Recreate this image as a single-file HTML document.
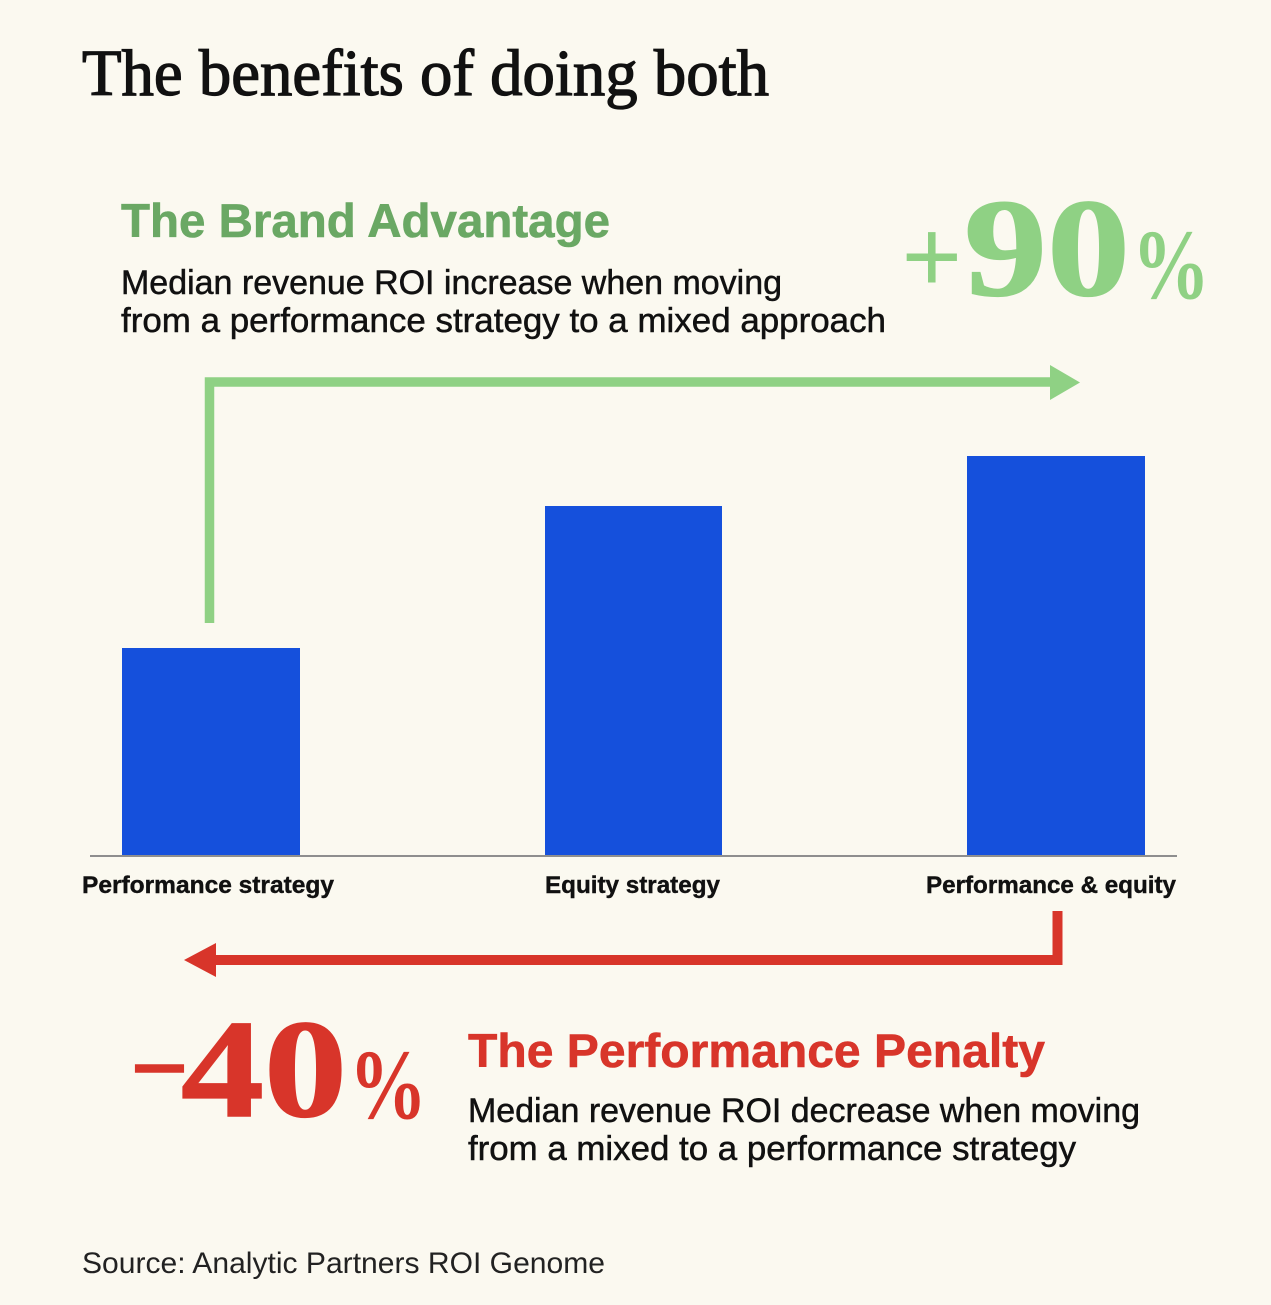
<!DOCTYPE html>
<html>
<head>
<meta charset="utf-8">
<style>
  html, body { margin: 0; padding: 0; background: #fbf9f0; }
  svg { display: block; }
</style>
</head>
<body>
<svg width="1271" height="1305" viewBox="0 0 1271 1305" xmlns="http://www.w3.org/2000/svg">
  <rect x="0" y="0" width="1271" height="1305" fill="#fbf9f0"/>

  <!-- Title -->
  <text x="82" y="95" font-family="'Liberation Serif', serif" font-size="66" fill="#111" stroke="#111" stroke-width="1.3" textLength="687" lengthAdjust="spacingAndGlyphs">The benefits of doing both</text>

  <!-- Brand advantage block -->
  <text x="121" y="237" font-family="'Liberation Sans', sans-serif" font-weight="bold" font-size="47" fill="#6aa864" stroke="#6aa864" stroke-width="0.6" textLength="489" lengthAdjust="spacingAndGlyphs">The Brand Advantage</text>
  <text x="121" y="294" font-family="'Liberation Sans', sans-serif" font-size="34" fill="#111" stroke="#111" stroke-width="0.5" textLength="661" lengthAdjust="spacingAndGlyphs">Median revenue ROI increase when moving</text>
  <text x="121" y="332" font-family="'Liberation Sans', sans-serif" font-size="34" fill="#111" stroke="#111" stroke-width="0.5" textLength="765" lengthAdjust="spacingAndGlyphs">from a performance strategy to a mixed approach</text>

  <!-- +90% -->
  <text x="901" y="293" font-family="'Liberation Serif', serif" font-weight="bold" font-size="108" fill="#8fd184">+</text>
  <text x="964" y="295" font-family="'Liberation Serif', serif" font-weight="bold" font-size="140" fill="#8fd184" stroke="#8fd184" stroke-width="1.5" textLength="166" lengthAdjust="spacingAndGlyphs">90</text>
  <text x="1132" y="298" font-family="'Liberation Serif', serif" font-weight="bold" font-size="100" fill="#8fd184" textLength="78" lengthAdjust="spacingAndGlyphs">%</text>

  <!-- Green arrow -->
  <polyline points="209.5,623 209.5,382 1052,382" fill="none" stroke="#8fd184" stroke-width="9.5" stroke-linejoin="miter"/>
  <polygon points="1050,365 1080,382.5 1050,400" fill="#8fd184"/>

  <!-- Bars -->
  <rect x="122" y="648" width="178" height="208" fill="#1550dc"/>
  <rect x="545" y="506" width="177" height="350" fill="#1550dc"/>
  <rect x="967" y="456" width="178" height="400" fill="#1550dc"/>

  <!-- Baseline -->
  <line x1="90" y1="856" x2="1177" y2="856" stroke="#8e8e8e" stroke-width="2"/>

  <!-- Category labels -->
  <text x="82" y="893" font-family="'Liberation Sans', sans-serif" font-weight="bold" font-size="24" fill="#111" stroke="#111" stroke-width="0.4" textLength="252" lengthAdjust="spacingAndGlyphs">Performance strategy</text>
  <text x="545" y="893" font-family="'Liberation Sans', sans-serif" font-weight="bold" font-size="24" fill="#111" stroke="#111" stroke-width="0.4" textLength="175" lengthAdjust="spacingAndGlyphs">Equity strategy</text>
  <text x="926" y="893" font-family="'Liberation Sans', sans-serif" font-weight="bold" font-size="24" fill="#111" stroke="#111" stroke-width="0.4" textLength="250" lengthAdjust="spacingAndGlyphs">Performance &amp; equity</text>

  <!-- Red arrow -->
  <polyline points="1057.5,911 1057.5,960 214,960" fill="none" stroke="#d8352a" stroke-width="10" stroke-linejoin="miter"/>
  <polygon points="216,943 184,960 216,977" fill="#d8352a"/>

  <!-- -40% -->
  <text x="128" y="1092" font-family="'Liberation Serif', serif" font-weight="bold" font-size="100" fill="#d8352a" textLength="63" lengthAdjust="spacingAndGlyphs">-</text>
  <text x="181" y="1116" font-family="'Liberation Serif', serif" font-weight="bold" font-size="140" fill="#d8352a" stroke="#d8352a" stroke-width="1.5" textLength="166" lengthAdjust="spacingAndGlyphs">40</text>
  <text x="349" y="1118" font-family="'Liberation Serif', serif" font-weight="bold" font-size="100" fill="#d8352a" textLength="78" lengthAdjust="spacingAndGlyphs">%</text>

  <!-- Performance penalty block -->
  <text x="468" y="1067" font-family="'Liberation Sans', sans-serif" font-weight="bold" font-size="47" fill="#d8352a" stroke="#d8352a" stroke-width="0.6" textLength="577" lengthAdjust="spacingAndGlyphs">The Performance Penalty</text>
  <text x="468" y="1122" font-family="'Liberation Sans', sans-serif" font-size="34" fill="#111" stroke="#111" stroke-width="0.5" textLength="672" lengthAdjust="spacingAndGlyphs">Median revenue ROI decrease when moving</text>
  <text x="468" y="1160" font-family="'Liberation Sans', sans-serif" font-size="34" fill="#111" stroke="#111" stroke-width="0.5" textLength="608" lengthAdjust="spacingAndGlyphs">from a mixed to a performance strategy</text>

  <!-- Source -->
  <text x="82" y="1273" font-family="'Liberation Sans', sans-serif" font-size="30" fill="#222" textLength="523" lengthAdjust="spacingAndGlyphs">Source: Analytic Partners ROI Genome</text>
</svg>
</body>
</html>
